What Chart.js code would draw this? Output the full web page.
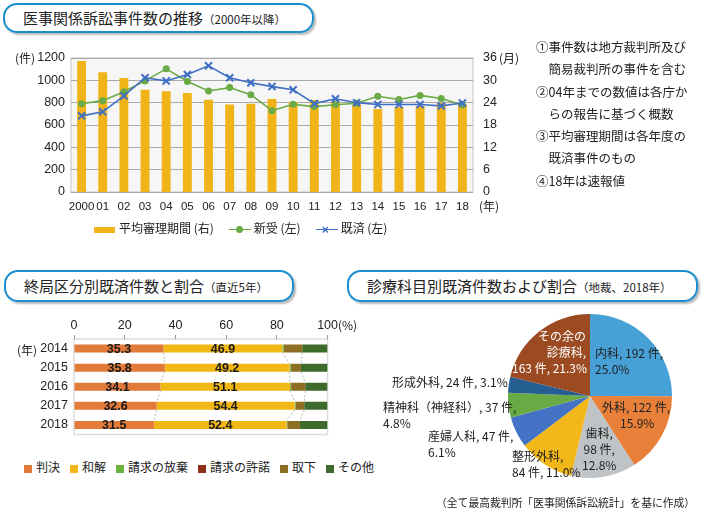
<!DOCTYPE html>
<html lang="ja">
<head>
<meta charset="utf-8">
<script src="https://cdn.jsdelivr.net/npm/chart.js@4.4.1/dist/chart.umd.min.js"></script>
<style>
  body { margin: 0; background: #fff; font-family: "Noto Sans CJK JP", sans-serif; color: #222; }
  #page { position: relative; width: 701px; height: 513px; overflow: hidden; }
  .abs { position: absolute; white-space: nowrap; }
  .title { position: absolute; box-sizing: border-box; border: 2px solid #1b8ed0; border-radius: 14px;
           box-shadow: 2px 2px 2px rgba(0,0,0,0.28); font-size: 15px; line-height: 26px; padding-left: 18px; }
  .title small { font-size: 11.5px; }
  .note { font-size: 12.5px; line-height: 22.3px; }
  .lab { font-size: 12px; line-height: 16px; }
  .leg { font-size: 12px; }
  canvas { position: absolute; }
</style>
</head>
<body>
<div id="page">
  <div class="title" style="left:3px;top:3px;width:311px;height:30px;">医事関係訴訟事件数の推移<small>（2000年以降）</small></div>
  <div class="title" style="left:4px;top:270px;width:290px;height:32px;line-height:28px;">終局区分別既済件数と割合<small>（直近5年）</small></div>
  <div class="title" style="left:347px;top:270px;width:351px;height:32px;line-height:28px;">診療科目別既済件数および割合<small>（地裁、2018年）</small></div>

  <canvas id="trendChart" width="530" height="180" style="left:0;top:40px;"></canvas>
  <div class="abs leg" style="left:15px;top:49px;">(件)</div>
  <div class="abs leg" style="left:499px;top:49px;">(月)</div>
  <div class="abs leg" style="left:479px;top:197px;">(年)</div>
  <div id="trendLegend" class="abs leg" style="left:94px;top:219px;"></div>

  <div class="abs note" style="left:536px;top:36px;">
    ①事件数は地方裁判所及び<br>
    &#12288;簡易裁判所の事件を含む<br>
    ②04年までの数値は各庁か<br>
    &#12288;らの報告に基づく概数<br>
    ③平均審理期間は各年度の<br>
    &#12288;既済事件のもの<br>
    ④18年は速報値
  </div>

  <canvas id="closeChart" width="340" height="143" style="left:0;top:305px;"></canvas>
  <div class="abs leg" style="left:17px;top:341px;">(年)</div>
  <div class="abs leg" style="left:338px;top:316px;">(%)</div>
  <div id="closeLegend" class="abs leg" style="left:24px;top:458px;"></div>

  <canvas id="deptChart" width="170" height="170" style="left:505px;top:311px;"></canvas>
  <div class="abs lab" style="left:595px;top:345px;">内科, 192 件,<br>25.0%</div>
  <div class="abs lab" style="left:602px;top:399px;">外科, 122 件,<br>&#8195;&#8194;15.9%</div>
  <div class="abs lab" style="left:582px;top:425px;text-align:center;">歯科,<br>98 件,<br>12.8%</div>
  <div class="abs lab" style="left:512px;top:448px;">整形外科,<br>84 件, 11.0%</div>
  <div class="abs lab" style="left:428px;top:428px;">産婦人科, 47 件,<br>6.1%</div>
  <div class="abs lab" style="left:383px;top:399px;">精神科（神経科）, 37 件,<br>4.8%</div>
  <div class="abs lab" style="left:392px;top:374px;">形成外科, 24 件, 3.1%</div>
  <div class="abs lab" style="left:512px;top:328px;width:74px;text-align:right;color:#fff;">その余の<br>診療科,<br>163 件, 21.3%</div>

  <div class="abs" style="left:436px;top:494px;font-size:10.8px;">（全て最高裁判所「医事関係訴訟統計」を基に作成）</div>
</div>

<script>
// 医事関係訴訟事件数の推移
const years = ["2000", "01", "02", "03", "04", "05", "06", "07", "08", "09", "10", "11", "12", "13", "14", "15", "16", "17", "18"];
const avgMonths = [35.2, 32.2, 30.6, 27.5, 27.1, 26.6, 24.8, 23.5, 23.7, 25.0, 24.2, 24.7, 24.4, 23.6, 22.3, 22.8, 23.1, 23.9, 23.6];
const newCases = [790, 818, 898, 995, 1103, 990, 905, 935, 872, 728, 785, 765, 782, 795, 857, 828, 865, 838, 780];
const closedCases = [682, 718, 860, 1023, 995, 1052, 1130, 1023, 978, 944, 915, 792, 835, 800, 783, 783, 783, 771, 797];

// 終局区分別既済件数と割合 (%)
const closeYears = ["2014", "2015", "2016", "2017", "2018"];
const hanketsu = [35.3, 35.8, 34.1, 32.6, 31.5];
const wakai = [46.9, 49.2, 51.1, 54.4, 52.4];
const houki = [0.5, 0.5, 0.4, 0.3, 0.2];
const nindaku = [0.1, 0.1, 0.1, 0.1, 0.1];
const torisage = [7.2, 3.9, 5.5, 3.4, 4.9];
const sonota = [10.0, 10.5, 8.8, 9.2, 10.9];
const closeNames = ["判決", "和解", "請求の放棄", "請求の許諾", "取下", "その他"];

// 診療科目別既済件数 (地裁, 2018年)
const depts = ["内科", "外科", "歯科", "整形外科", "産婦人科", "精神科（神経科）", "形成外科", "その余の診療科"];
const deptCounts = [192, 122, 98, 84, 47, 37, 24, 163];
const deptShare = [25.0, 15.9, 12.8, 11.0, 6.1, 4.8, 3.1, 21.3];

const numFont = { family: "'Liberation Sans', Arial, sans-serif", size: 12.5 };
const xFont = { family: "'Liberation Sans', Arial, sans-serif", size: 11.5 };
const plain = v => String(v);

const plotFrame = {
  id: "plotFrame",
  beforeDraw(chart, args, opts) {
    const { ctx, chartArea: a } = chart;
    ctx.save();
    ctx.fillStyle = opts.fill || "#f6f6f6";
    ctx.fillRect(a.left, a.top, a.right - a.left, a.bottom - a.top);
    ctx.strokeStyle = opts.stroke || "#d6d6d6";
    ctx.lineWidth = 1.5;
    ctx.strokeRect(a.left, a.top, a.right - a.left, a.bottom - a.top);
    ctx.restore();
  }
};

new Chart(document.getElementById("trendChart"), {
  data: {
    labels: years,
    datasets: [
      { type: "line", label: "既済(左)", data: closedCases, yAxisID: "y", order: 1,
        borderColor: "#3f6fc4", backgroundColor: "#3f6fc4", borderWidth: 1.6,
        pointStyle: "crossRot", pointRadius: 5, pointBorderWidth: 2 },
      { type: "line", label: "新受(左)", data: newCases, yAxisID: "y", order: 2,
        borderColor: "#6aab45", backgroundColor: "#6aab45", borderWidth: 1.6,
        pointStyle: "circle", pointRadius: 3.5, pointBorderWidth: 0 },
      { type: "bar", label: "平均審理期間(右)", data: avgMonths, yAxisID: "y1", order: 3,
        backgroundColor: "#f0b418", barPercentage: 0.42, categoryPercentage: 1 }
    ]
  },
  options: {
    responsive: false, animation: false,
    layout: { padding: { top: 18 } },
    plugins: { legend: { display: false }, tooltip: { enabled: false }, plotFrame: {} },
    scales: {
      x: { grid: { display: false, drawTicks: false }, border: { display: false },
           ticks: { color: "#222", font: xFont, padding: 8, autoSkip: false, maxRotation: 0 },
           afterFit: s => { s.height = 28; } },
      y: { position: "left", min: 0, max: 1200, grid: { color: "#a9a9a9", drawTicks: false }, border: { display: false },
           ticks: { stepSize: 200, color: "#222", font: numFont, padding: 6, callback: plain },
           afterFit: s => { s.width = 71; } },
      y1: { position: "right", min: 0, max: 36, grid: { display: false, drawTicks: false }, border: { display: false },
            ticks: { stepSize: 6, color: "#222", font: numFont, padding: 10, callback: plain },
            afterFit: s => { s.width = 57; } }
    }
  },
  plugins: [plotFrame]
});

const closeColors = ["#e27a3a", "#f1b715", "#6cb33f", "#8a3215", "#8e6e22", "#3e6a2c"];
const closeSeries = [hanketsu, wakai, houki, nindaku, torisage, sonota];

const barLabels = {
  id: "barLabels",
  afterDatasetsDraw(chart) {
    const { ctx } = chart;
    ctx.save();
    ctx.font = "bold 12.5px 'Liberation Sans', Arial, sans-serif";
    ctx.fillStyle = "#1a1a1a";
    ctx.textAlign = "center";
    ctx.textBaseline = "middle";
    [0, 1].forEach(di => {
      chart.getDatasetMeta(di).data.forEach((el, i) => {
        ctx.fillText(closeSeries[di][i].toFixed(1), (el.x + el.base) / 2, el.y + 1);
      });
    });
    ctx.restore();
  },
  beforeDatasetsDraw(chart) {
    // dotted series lines between neighbouring bars
    const { ctx } = chart;
    ctx.save();
    ctx.strokeStyle = "#b8b8b8";
    ctx.lineWidth = 1;
    ctx.setLineDash([2, 2]);
    [0, 1, 4].forEach(di => {
      const els = chart.getDatasetMeta(di).data;
      for (let i = 0; i < els.length - 1; i++) {
        const a = els[i], b = els[i + 1];
        ctx.beginPath();
        ctx.moveTo(a.x, a.y + a.height / 2);
        ctx.lineTo(b.x, b.y - b.height / 2);
        ctx.stroke();
      }
    });
    ctx.restore();
  }
};

new Chart(document.getElementById("closeChart"), {
  type: "bar",
  data: {
    labels: closeYears,
    datasets: closeSeries.map((d, i) => ({
      label: closeNames[i], data: d, backgroundColor: closeColors[i],
      barPercentage: 0.42, categoryPercentage: 1
    }))
  },
  options: {
    indexAxis: "y", responsive: false, animation: false,
    layout: { padding: { right: 11 } },
    plugins: { legend: { display: false }, tooltip: { enabled: false },
               plotFrame: { fill: "#ffffff", stroke: "#dcdcdc" } },
    scales: {
      x: { position: "top", stacked: true, min: 0, max: 100,
           grid: { drawOnChartArea: false, tickLength: 4, color: "#9a9a9a" }, border: { display: false },
           ticks: { stepSize: 20, color: "#222", font: numFont, padding: 2 },
           afterFit: s => { s.height = 34; } },
      y: { stacked: true, grid: { display: false, drawTicks: false }, border: { display: false },
           ticks: { color: "#222", font: numFont, padding: 6 },
           afterFit: s => { s.width = 74; } }
    }
  },
  plugins: [plotFrame, barLabels]
});

const deptColors = ["#47a0d6", "#e8803a", "#bfc3c5", "#f2b81a", "#4472c4", "#6aaa45", "#255e91", "#9b4a22"];

new Chart(document.getElementById("deptChart"), {
  type: "pie",
  data: {
    labels: depts,
    datasets: [{ data: deptCounts, backgroundColor: deptColors, borderWidth: 0 }]
  },
  options: {
    responsive: false, animation: false,
    layout: { padding: 3 },
    plugins: { legend: { display: false }, tooltip: { enabled: false } }
  }
});

// legends
const sw = (style) => `<span style="display:inline-block;vertical-align:middle;${style}"></span>`;
document.getElementById("trendLegend").innerHTML =
  sw("width:21px;height:6px;background:#f0b418;margin-right:4px;") + "平均審理期間 (右)" +
  `<span style="display:inline-block;width:22px;height:12px;position:relative;vertical-align:middle;margin:0 3px 0 15px;">
     <span style="position:absolute;left:0;top:5px;width:22px;height:1.6px;background:#6aab45"></span>
     <span style="position:absolute;left:7px;top:2px;width:7px;height:7px;border-radius:50%;background:#6aab45"></span></span>` +
  "新受 (左)" +
  `<span style="display:inline-block;width:22px;height:12px;position:relative;vertical-align:middle;margin:0 3px 0 15px;">
     <span style="position:absolute;left:0;top:5px;width:22px;height:1.6px;background:#3f6fc4"></span>
     <span style="position:absolute;left:6px;top:-1px;font:bold 12px 'Liberation Sans';color:#3f6fc4">×</span></span>` +
  "既済 (左)";

document.getElementById("closeLegend").innerHTML = closeNames.map((n, i) =>
  sw(`width:8px;height:8px;background:${closeColors[i]};margin-right:4px;`) + n
).join('<span style="display:inline-block;width:10px"></span>');
</script>
</body>
</html>
